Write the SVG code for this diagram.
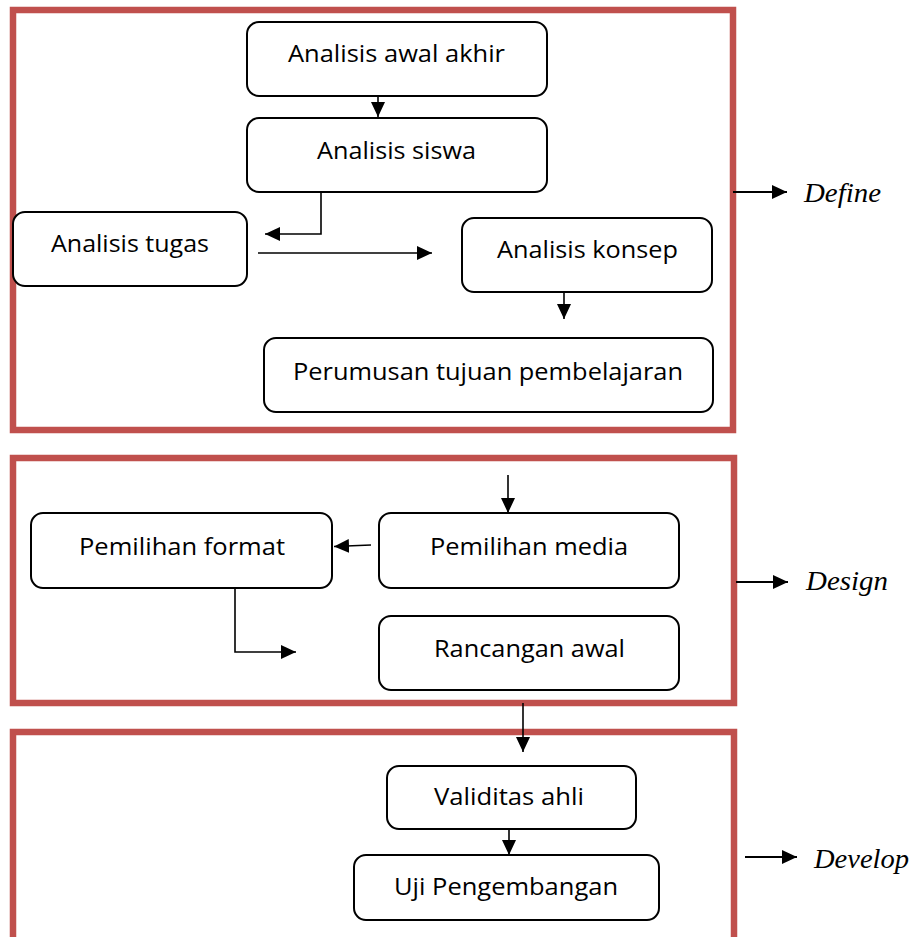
<svg xmlns="http://www.w3.org/2000/svg" width="912" height="937" viewBox="0 0 912 937">
<style>
.frame{fill:none;stroke:#c0504d;stroke-width:6.5}
.box{fill:#fff;stroke:#000;stroke-width:2}
.lbl{font-family:"Open Sans","Noto Sans",sans-serif;font-size:24px;fill:#000;text-anchor:start}
.phase{font-family:"Liberation Serif","Times New Roman",serif;font-style:italic;font-size:28px;fill:#000}
.con{fill:none;stroke:#000;stroke-width:1.6}
.big{fill:none;stroke:#000;stroke-width:2}
</style>
<defs>
<marker id="ah" markerUnits="userSpaceOnUse" markerWidth="16" markerHeight="15" refX="15" refY="7" orient="auto">
<path d="M0,0 L15,7 L0,14 z" fill="#000"/>
</marker>
</defs>
<rect width="912" height="937" fill="#fff"/>

<g id="frames">
<rect class="frame" x="13" y="10" width="720" height="420"/>
<rect class="frame" x="13" y="458" width="721" height="245"/>
<rect class="frame" x="13" y="732" width="721" height="240"/>
</g>

<g id="n-awal"><rect class="box" x="247" y="22" width="300" height="74" rx="12"/><text class="lbl" x="288" y="62" textLength="217" lengthAdjust="spacingAndGlyphs">Analisis awal akhir</text></g>
<g id="n-siswa"><rect class="box" x="247" y="118" width="300" height="74" rx="12"/><text class="lbl" x="317" y="159" textLength="159" lengthAdjust="spacingAndGlyphs">Analisis siswa</text></g>
<g id="n-tugas"><rect class="box" x="13" y="212" width="234" height="74" rx="12"/><text class="lbl" x="51" y="252" textLength="158" lengthAdjust="spacingAndGlyphs">Analisis tugas</text></g>
<g id="n-konsep"><rect class="box" x="462" y="218" width="250" height="74" rx="12"/><text class="lbl" x="497" y="258" textLength="181" lengthAdjust="spacingAndGlyphs">Analisis konsep</text></g>
<g id="n-perumusan"><rect class="box" x="264" y="338" width="449" height="74" rx="12"/><text class="lbl" x="293" y="380" textLength="390" lengthAdjust="spacingAndGlyphs">Perumusan tujuan pembelajaran</text></g>

<g id="n-format"><rect class="box" x="31" y="513" width="301" height="75" rx="12"/><text class="lbl" x="79" y="555" textLength="206" lengthAdjust="spacingAndGlyphs">Pemilihan format</text></g>
<g id="n-media"><rect class="box" x="379" y="513" width="300" height="75" rx="12"/><text class="lbl" x="430" y="555" textLength="198" lengthAdjust="spacingAndGlyphs">Pemilihan media</text></g>
<g id="n-rancangan"><rect class="box" x="379" y="616" width="300" height="74" rx="12"/><text class="lbl" x="434" y="657" textLength="191" lengthAdjust="spacingAndGlyphs">Rancangan awal</text></g>

<g id="n-validitas"><rect class="box" x="387" y="766" width="249" height="63" rx="12"/><text class="lbl" x="434" y="805" textLength="150" lengthAdjust="spacingAndGlyphs">Validitas ahli</text></g>
<g id="n-uji"><rect class="box" x="354" y="855" width="305" height="65" rx="12"/><text class="lbl" x="394" y="895" textLength="224" lengthAdjust="spacingAndGlyphs">Uji Pengembangan</text></g>

<g id="phases">
<text class="phase" x="804" y="202" textLength="77" lengthAdjust="spacingAndGlyphs">Define</text>
<text class="phase" x="806" y="590" textLength="82" lengthAdjust="spacingAndGlyphs">Design</text>
<text class="phase" x="814" y="868" textLength="95" lengthAdjust="spacingAndGlyphs">Develop</text>
</g>

<g id="connectors">
<path class="con" d="M378,96 V117" marker-end="url(#ah)"/>
<path class="con" d="M378,192 H321 V234 H265" marker-end="url(#ah)"/>
<path class="con" d="M258,253 H432" marker-end="url(#ah)"/>
<path class="con" d="M564,292 V319" marker-end="url(#ah)"/>
<path class="con" d="M508,475 V513" marker-end="url(#ah)"/>
<path class="con" d="M371,545 L334,546.5" marker-end="url(#ah)"/>
<path class="con" d="M174,588 H235 V652 H296" marker-end="url(#ah)"/>
<path class="con" d="M523,703 V752" marker-end="url(#ah)"/>
<path class="con" d="M509,829 V855" marker-end="url(#ah)"/>
<path class="big" d="M733,192 H787" marker-end="url(#ah)"/>
<path class="big" d="M736,582 H788" marker-end="url(#ah)"/>
<path class="big" d="M745,857 H797" marker-end="url(#ah)"/>
</g>
</svg>
